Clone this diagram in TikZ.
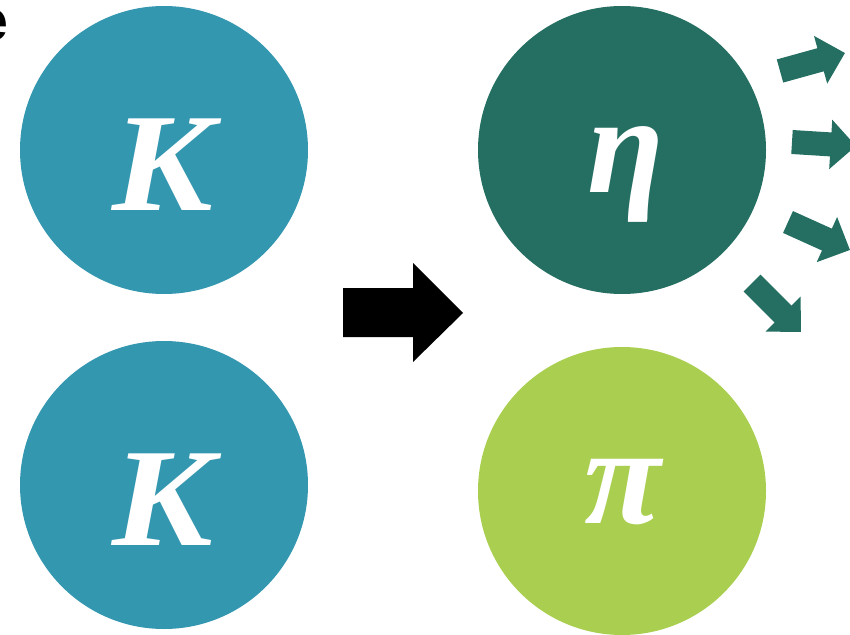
\documentclass[tikz,border=0pt]{standalone}
\usepackage{fontspec}
\setmainfont{Liberation Serif}
\newfontfamily\sansbold{Liberation Sans}
\usetikzlibrary{arrows.meta}
\definecolor{kblue}{HTML}{3497B0}
\definecolor{etagreen}{HTML}{246F61}
\definecolor{pigreen}{HTML}{AACF50}
\begin{document}
\begin{tikzpicture}[x=0.75pt,y=-0.75pt,
  ball/.style={circle,minimum size=288*0.75pt,inner sep=0pt},
  greek/.style={text=white,inner sep=0pt,anchor=base,font=\fontsize{105}{110}\selectfont\bfseries\itshape},
  smallarrow/.style={draw=etagreen,line width=18pt,-{Triangle[length=19pt,width=36pt]}}]
\useasboundingbox (0,0) rectangle (850,635);
\clip (0,0) rectangle (850,635);
% cropped label
\node[anchor=base east,inner sep=0pt,font=\sansbold\bfseries\fontsize{43}{45}\selectfont] (lbl) at (9,41) {e};
% circles
\node[ball,fill=kblue] (k1) at (164,150) {};
\node[ball,fill=kblue] (k2) at (164,485) {};
\node[ball,fill=etagreen] (eta) at (622,150) {};
\node[ball,fill=pigreen] (pi) at (622,491) {};
\node[greek,xscale=1.08] (k1t) at (163,210) {K};
\node[greek,xscale=1.08] (k2t) at (163,545) {K};
\node[greek] (etat) at (626,192) {η};
\node[greek] (pit) at (623,523) {π};
% big arrow
\fill[black] (343,288) -- (413,288) -- (413,263) -- (463,313) -- (413,362) -- (413,337) -- (343,337) -- cycle;
% small arrows
\coordinate (a1s) at (780,71);
\coordinate (a1e) at (845,53);
\coordinate (a2s) at (792,142);
\coordinate (a2e) at (856,146);
\coordinate (a3s) at (788,222);
\coordinate (a3e) at (850,250);
\coordinate (a4s) at (752,283);
\coordinate (a4e) at (801,332);
\draw[smallarrow] (a1s) -- (a1e);
\draw[smallarrow] (a2s) -- (a2e);
\draw[smallarrow] (a3s) -- (a3e);
\draw[smallarrow] (a4s) -- (a4e);
\end{tikzpicture}
\end{document}
